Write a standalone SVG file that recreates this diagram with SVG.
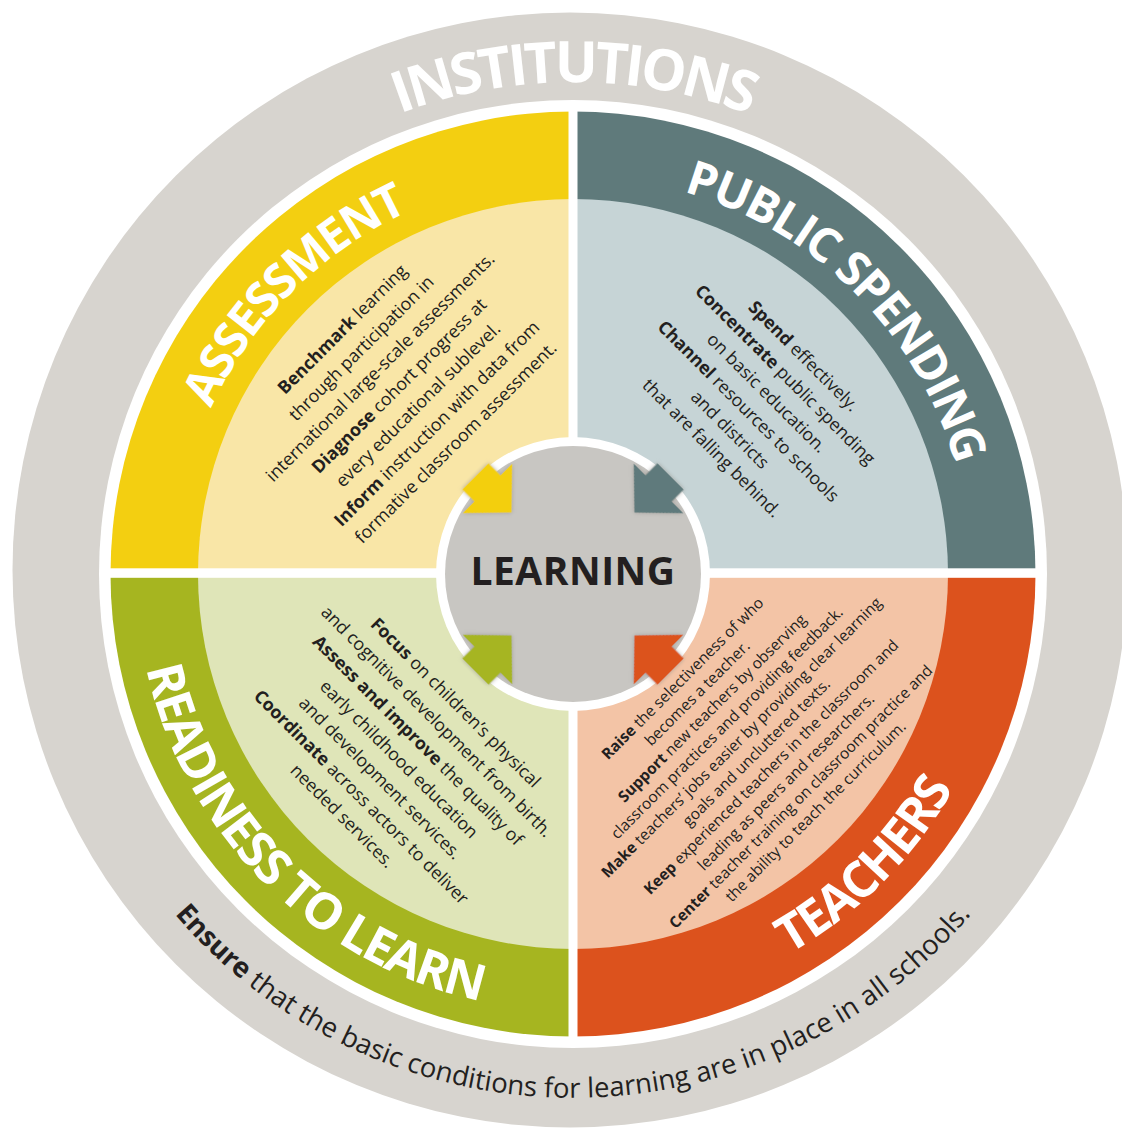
<svg xmlns="http://www.w3.org/2000/svg" width="1122" height="1129" viewBox="0 0 1122 1129">
<defs>
<style>
.t{font-family:'Open Sans','Noto Sans',sans-serif;fill:#231f20}
.q{font-size:17.8px}
.tq{font-size:15.5px}
.b{font-weight:700}
.ttl{font-family:'Open Sans','Noto Sans',sans-serif;font-weight:700;fill:#fff;font-size:50px;letter-spacing:-2px}
.top{font-size:47.5px;letter-spacing:-1.8px}
.gap{fill:#fff}
</style>
<path id="pA" d="M199.0,710.1 A398,398 0 0 1 709.1,200.0"/>
<path id="pP" d="M436.9,200.0 A398,398 0 0 1 947.0,710.1"/>
<path id="pR" d="M162.4,424.5 A437,437 0 0 0 722.5,984.6"/>
<path id="pT" d="M423.5,984.6 A437,437 0 0 0 983.6,424.5"/>
<path id="pI" d="M108.9,405.0 A495,495 0 0 1 1037.1,405.0"/>
<path id="pB" d="M57,665 A524,524 0 0 0 1089,665"/>
<filter id="sh" x="-40%" y="-40%" width="180%" height="180%"><feDropShadow dx="0" dy="0" stdDeviation="2" flood-color="#8d8b86" flood-opacity="0.7"/></filter>
<polygon id="arrow" points="87,0 121,35 121,18.5 138,18.5 138,-18.5 121,-18.5 121,-35"/>
</defs>

<g id="institutions">
<circle cx="570" cy="570" r="557.5" fill="#d7d4cf"/>
<circle cx="573" cy="574" r="474" fill="#fff"/>
<text class="ttl" style="font-size:57px;letter-spacing:-3.8px" text-anchor="middle"><textPath href="#pI" startOffset="50%">INSTITUTIONS</textPath></text>
<text class="t" style="font-size:27.5px" text-anchor="middle"><textPath href="#pB" startOffset="50%"><tspan class="b">Ensure</tspan> that the basic conditions for learning are in place in all schools.</textPath></text>
</g>

<g id="assessment">
<path d="M573,574 L110.5,574 A462.5,462.5 0 0 1 573,111.5 Z" fill="#f3cf11"/>
<path d="M573,574 L198,574 A375,375 0 0 1 573,199 Z" fill="#f9e6a7"/>
<text class="ttl top" text-anchor="middle"><textPath href="#pA" startOffset="50%">ASSESSMENT</textPath></text>
<g class="t q" transform="translate(573,574) rotate(-45)" text-anchor="middle">
<text x="10" y="-330"><tspan class="b">Benchmark</tspan> learning</text>
<text x="10" y="-303.3">through participation in</text>
<text x="10" y="-276.6">international large-scale assessments.</text>
<text x="10" y="-249.9"><tspan class="b">Diagnose</tspan> cohort progress at</text>
<text x="10" y="-223.2">every educational sublevel.</text>
<text x="10" y="-196.5"><tspan class="b">Inform</tspan> instruction with data from</text>
<text x="10" y="-169.8">formative classroom assessment.</text>
</g>
</g>

<g id="public-spending">
<path d="M573,574 L573,111.5 A462.5,462.5 0 0 1 1035.5,574 Z" fill="#5f7a7b"/>
<path d="M573,574 L573,199 A375,375 0 0 1 948,574 Z" fill="#c6d4d6"/>
<text class="ttl top" text-anchor="middle"><textPath href="#pP" startOffset="50%">PUBLIC SPENDING</textPath></text>
<g class="t q" transform="translate(573,574) rotate(45)" text-anchor="middle">
<text x="9" y="-311"><tspan class="b">Spend</tspan> effectively.</text>
<text x="9" y="-285"><tspan class="b">Concentrate</tspan> public spending</text>
<text x="9" y="-259">on basic education.</text>
<text x="9" y="-233"><tspan class="b">Channel</tspan> resources to schools</text>
<text x="9" y="-207">and districts</text>
<text x="9" y="-181">that are falling behind.</text>
</g>
</g>

<g id="teachers">
<path d="M573,574 L1035.5,574 A462.5,462.5 0 0 1 573,1036.5 Z" fill="#dc521d"/>
<path d="M573,574 L948,574 A375,375 0 0 1 573,949 Z" fill="#f3c4a6"/>
<text class="ttl" text-anchor="middle"><textPath href="#pT" startOffset="50%">TEACHERS</textPath></text>
<g class="t tq" transform="translate(573,574) rotate(-45)" text-anchor="middle">
<text x="3.5" y="156.6"><tspan class="b">Raise</tspan> the selectiveness of who</text>
<text x="3.5" y="177.5">becomes a teacher.</text>
<text x="3.5" y="198.4"><tspan class="b">Support</tspan> new teachers by observing</text>
<text x="3.5" y="219.3">classroom practices and providing feedback.</text>
<text x="3.5" y="240.2"><tspan class="b">Make</tspan> teachers’ jobs easier by providing clear learning</text>
<text x="3.5" y="261.1">goals and uncluttered texts.</text>
<text x="3.5" y="282.0"><tspan class="b">Keep</tspan> experienced teachers in the classroom and</text>
<text x="3.5" y="302.9">leading as peers and researchers.</text>
<text x="3.5" y="323.8"><tspan class="b">Center</tspan> teacher training on classroom practice and</text>
<text x="3.5" y="344.7">the ability to teach the curriculum.</text>
</g>
</g>

<g id="readiness-to-learn">
<path d="M573,574 L573,1036.5 A462.5,462.5 0 0 1 110.5,574 Z" fill="#a6b520"/>
<path d="M573,574 L573,949 A375,375 0 0 1 198,574 Z" fill="#dfe5b8"/>
<text class="ttl" text-anchor="middle"><textPath href="#pR" startOffset="50%">READINESS TO LEARN</textPath></text>
<g class="t q" transform="translate(573,574) rotate(45)" text-anchor="middle">
<text x="8" y="180"><tspan class="b">Focus</tspan> on children’s physical</text>
<text x="8" y="206.7">and cognitive development from birth.</text>
<text x="8" y="233.4"><tspan class="b">Assess and improve</tspan> the quality of</text>
<text x="8" y="260.1">early childhood education</text>
<text x="8" y="286.8">and development services.</text>
<text x="8" y="313.5"><tspan class="b">Coordinate</tspan> across actors to deliver</text>
<text x="8" y="340.2">needed services.</text>
</g>
</g>

<g id="gaps">
<rect class="gap" x="568.5" y="101" width="9" height="946"/>
<rect class="gap" x="100" y="568.3" width="946" height="9.5"/>
</g>

<g id="learning">
<circle cx="573" cy="574" r="137" fill="#fff"/>
<circle cx="573" cy="574" r="128" fill="#c8c6c2"/>
<text class="t b" x="573" y="585" text-anchor="middle" style="font-size:39px;letter-spacing:0.5px">LEARNING</text>
</g>

<g id="connectors">
<use href="#arrow" transform="translate(573,574) rotate(225)" fill="#f3cf11" filter="url(#sh)"/>
<use href="#arrow" transform="translate(573,574) rotate(315)" fill="#5f7a7b" filter="url(#sh)"/>
<use href="#arrow" transform="translate(573,574) rotate(45)" fill="#dc521d" filter="url(#sh)"/>
<use href="#arrow" transform="translate(573,574) rotate(135)" fill="#a6b520" filter="url(#sh)"/>
</g>
</svg>
